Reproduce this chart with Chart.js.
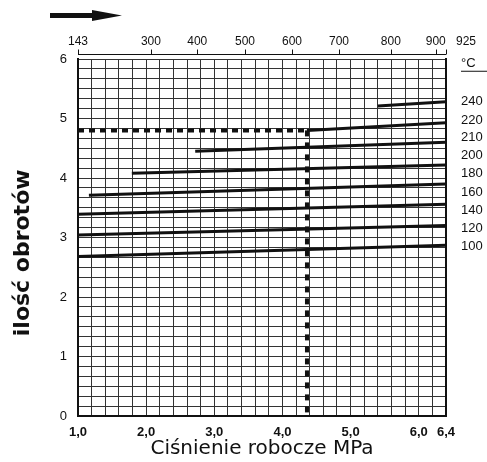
<!DOCTYPE html>
<html>
<head>
<meta charset="utf-8">
<script src="https://cdn.jsdelivr.net/npm/chart.js@4.4.1/dist/chart.umd.min.js"></script>
<style>
html, body { margin: 0; padding: 0; background: #fff; }
</style>
</head>
<body>
<canvas id="chart" width="487" height="462"></canvas>
<script>
// bottom axis - working pressure (MPa)
var pressureMin = 1.0;
var pressureMax = 6.4;
var pressureLabels = ['1,0', '2,0', '3,0', '4,0', '5,0', '6,0', '6,4'];
var pressureLabelValues = [1, 2, 3, 4, 5, 6, 6.4];

// top axis - temperature labels and where they sit on the pressure axis
var topTempLabels = ['143', '300', '400', '500', '600', '700', '800', '900', '            925'];
var topTempPositions = [1.0, 2.07, 2.75, 3.45, 4.14, 4.83, 5.59, 6.25, 6.4];

// right column - temperature labels
var rightLabels = ['°C', '240', '220', '210', '200', '180', '160', '140', '120', '100'];
var rightLabelPositions = [5.92, 5.29, 4.96, 4.69, 4.38, 4.08, 3.76, 3.46, 3.15, 2.85];

// curves (start / end of each line)
var lineNames = ['240', '220', '210', '200', '180', '160', '140', '120'];
var lineStartX = [5.40, 4.36, 2.72, 1.79, 1.16, 1.00, 1.00, 1.00];
var lineStartY = [5.21, 4.80, 4.45, 4.08, 3.71, 3.39, 3.04, 2.68];
var lineEndX = [6.40, 6.40, 6.40, 6.40, 6.40, 6.40, 6.40, 6.40];
var lineEndY = [5.28, 4.93, 4.60, 4.22, 3.90, 3.56, 3.20, 2.87];

// reading example (dashed)
var readPressure = 4.36;
var readTurns = 4.8;

var datasets = [];

//One dataset per temperature line.
for (let i = 0; i < lineNames.length; i++) {
    datasets.push({
        label: lineNames[i],
        data: [{ x: lineStartX[i], y: lineStartY[i] }, { x: lineEndX[i], y: lineEndY[i] }],
        borderColor: '#111',
        borderWidth: 3,
        pointRadius: 0,
        showLine: true
    });
}

datasets.push({
    label: 'odczyt poziomy',
    data: [{ x: pressureMin, y: readTurns }, { x: readPressure, y: readTurns }],
    borderColor: '#111',
    borderWidth: 4,
    borderDash: [6, 5],
    pointRadius: 0,
    showLine: true
});

datasets.push({
    label: 'odczyt pionowy',
    data: [{ x: readPressure, y: readTurns }, { x: readPressure, y: 0 }],
    borderColor: '#111',
    borderWidth: 4,
    borderDash: [6, 6],
    pointRadius: 0,
    showLine: true
});

var decorPlugin = {
    id: 'decor',
    afterDraw: function (chart) {
        var ctx = chart.ctx;
        var area = chart.chartArea;
        var top = chart.scales.x2;
        var right = chart.scales.y2;

        ctx.save();
        ctx.strokeStyle = '#111';
        ctx.fillStyle = '#111';

        //Bracket line above the grid for the top scale.
        var yLine = area.top - 4.5;
        ctx.lineWidth = 1;
        ctx.beginPath();
        ctx.moveTo(top.getPixelForValue(pressureMin), yLine);
        ctx.lineTo(top.getPixelForValue(pressureMax), yLine);
        topTempPositions.forEach(function (p) {
            var px = Math.round(top.getPixelForValue(p)) + 0.5;
            ctx.moveTo(px, yLine);
            ctx.lineTo(px, yLine - 5);
        });
        ctx.stroke();

        //Underline under the °C heading.
        var yc = right.getPixelForValue(rightLabelPositions[0]) + 7.5;
        ctx.beginPath();
        ctx.moveTo(area.right + 15, yc);
        ctx.lineTo(487, yc);
        ctx.stroke();

        //Arrow at the top left.
        ctx.fillRect(50, 13, 44, 5);
        ctx.beginPath();
        ctx.moveTo(92, 10);
        ctx.lineTo(122, 15.5);
        ctx.lineTo(92, 21);
        ctx.closePath();
        ctx.fill();

        ctx.restore();
    }
};

var chart = new Chart(document.getElementById('chart'), {
    type: 'scatter',
    data: { datasets: datasets },
    plugins: [decorPlugin],
    options: {
        responsive: false,
        animation: false,
        layout: { padding: 0 },
        plugins: {
            legend: { display: false },
            tooltip: { enabled: false }
        },
        scales: {
            x: {
                type: 'linear',
                position: 'bottom',
                min: pressureMin,
                max: pressureMax,
                afterBuildTicks: function (scale) {
                    var ticks = [];
                    for (let i = 0; i <= 27; i++) {
                        ticks.push({ value: Math.round((pressureMin + 0.2 * i) * 10) / 10 });
                    }
                    scale.ticks = ticks;
                },
                afterFit: function (scale) {
                    scale.height = 46;
                    scale.paddingLeft = 0;
                    scale.paddingRight = 0;
                },
                grid: { color: '#333', lineWidth: 1, drawTicks: false },
                border: { display: true, color: '#111', width: 2 },
                ticks: {
                    autoSkip: false,
                    maxRotation: 0,
                    minRotation: 0,
                    padding: 9,
                    color: '#111',
                    font: { family: 'Liberation Sans', size: 13, weight: 'bold' },
                    callback: function (value) {
                        for (let i = 0; i < pressureLabelValues.length; i++) {
                            if (Math.abs(pressureLabelValues[i] - value) < 1e-6) {
                                return pressureLabels[i];
                            }
                        }
                        return '';
                    }
                },
                title: {
                    display: true,
                    text: 'Ciśnienie robocze MPa',
                    color: '#111',
                    font: { family: 'DejaVu Sans', size: 20 },
                    padding: { top: 0, bottom: 1 }
                }
            },
            x2: {
                type: 'linear',
                position: 'top',
                min: pressureMin,
                max: pressureMax,
                afterBuildTicks: function (scale) {
                    scale.ticks = topTempPositions.map(function (p) { return { value: p }; });
                },
                afterFit: function (scale) {
                    scale.height = 59;
                    scale.paddingLeft = 0;
                    scale.paddingRight = 0;
                },
                grid: { display: false, drawTicks: false },
                border: { display: false },
                ticks: {
                    autoSkip: false,
                    maxRotation: 0,
                    minRotation: 0,
                    padding: 10,
                    color: '#111',
                    font: { family: 'Liberation Sans', size: 12 },
                    callback: function (value, index) {
                        return topTempLabels[index];
                    }
                }
            },
            y: {
                type: 'linear',
                position: 'left',
                min: 0,
                max: 6,
                afterBuildTicks: function (scale) {
                    var ticks = [];
                    for (let i = 0; i <= 36; i++) {
                        ticks.push({ value: i / 6 });
                    }
                    scale.ticks = ticks;
                },
                afterFit: function (scale) { scale.width = 78; },
                grid: { color: '#333', lineWidth: 1, drawTicks: false },
                border: { display: true, color: '#111', width: 2 },
                ticks: {
                    autoSkip: false,
                    padding: 11,
                    color: '#111',
                    font: { family: 'Liberation Sans', size: 13 },
                    callback: function (value, index) {
                        return index % 6 === 0 ? String(index / 6) : '';
                    }
                },
                title: {
                    display: true,
                    text: 'ilość obrotów    ',
                    color: '#111',
                    font: { family: 'DejaVu Sans', size: 22, weight: 'bold' },
                    padding: { top: 10, bottom: 0 }
                }
            },
            y2: {
                type: 'linear',
                position: 'right',
                min: 0,
                max: 6,
                afterBuildTicks: function (scale) {
                    scale.ticks = rightLabelPositions.map(function (p) { return { value: p }; });
                },
                afterFit: function (scale) { scale.width = 41; },
                grid: { display: false, drawTicks: false },
                border: { display: true, color: '#111', width: 2 },
                ticks: {
                    autoSkip: false,
                    padding: 15,
                    color: '#111',
                    font: { family: 'Liberation Sans', size: 13 },
                    callback: function (value, index) {
                        return rightLabels[index];
                    }
                }
            }
        }
    }
});
</script>
</body>
</html>
